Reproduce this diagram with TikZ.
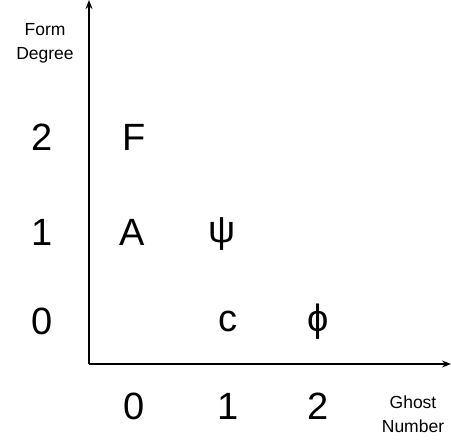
\documentclass[tikz,border=0pt]{standalone}
\usepackage{fontspec}
\setmainfont{Liberation Sans}
\usetikzlibrary{arrows.meta}
\begin{document}
\begin{tikzpicture}[x=1pt,y=-1pt,
  big/.style={font=\fontsize{38}{40}\selectfont, inner sep=0pt, anchor=center},
  small/.style={font=\fontsize{17.5}{24}\selectfont, align=center, inner sep=0pt},
  axis/.style={line width=1.8pt, -{Stealth[length=9pt,width=7pt]}}]
\useasboundingbox (0,0) rectangle (451,440);
\coordinate (o) at (89,364);
\coordinate (ytip) at (89,0);
\coordinate (xtip) at (451,364);
\draw[axis] (o) -- (ytip);
\draw[axis] (o) -- (xtip);
\node[small] (fd) at (45,43) {Form\\Degree};
\node[small] (gn) at (413,414) {Ghost\\Number};
\node[big] (r2) at (42,137) {2};
\node[big] (r1) at (42,232) {1};
\node[big] (r0) at (42,321) {0};
\node[big] (c0) at (134,406) {0};
\node[big] (c1) at (228,406) {1};
\node[big] (c2) at (318,406) {2};
\node[big] (F) at (134,137) {F};
\node[big] (A) at (132,232) {A};
\node[big] (psi) at (222,234) {ψ};
\node[big] (c) at (228,321) {c};
\node[big] (phi) at (318,322) {ϕ};
\end{tikzpicture}
\end{document}
